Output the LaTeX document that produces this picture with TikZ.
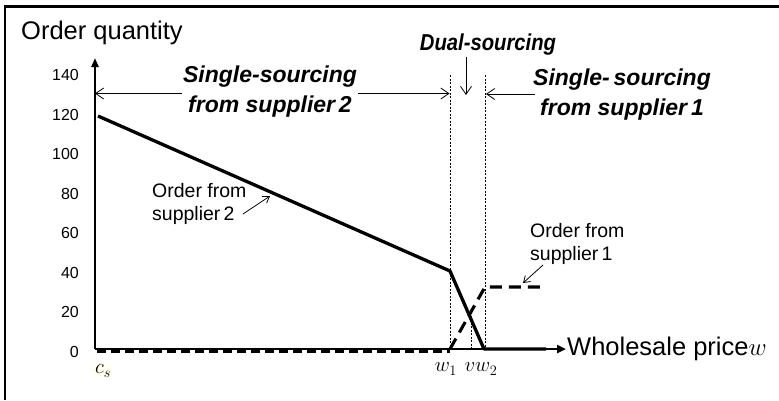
\documentclass[tikz,border=0pt]{standalone}
\usepackage{fontspec}
\setmainfont{Liberation Sans}
\usetikzlibrary{arrows.meta}
\begin{document}
\begin{tikzpicture}[x=1pt,y=-1pt,
  ticklab/.style={anchor=east,inner sep=0pt,font=\fontsize{16}{19}\selectfont},
  bigtxt/.style={inner sep=0pt,font=\fontsize{25.5}{30}\selectfont},
  regionlab/.style={inner sep=1pt,align=center,font=\fontsize{23}{30}\selectfont\bfseries\itshape},
  ordlab/.style={anchor=west,inner sep=0pt,align=left,font=\fontsize{19.5}{22.5}\selectfont},
  mathlab/.style={inner sep=1pt,font=\fontsize{21}{24}\selectfont},
  openarrow/.style={line width=0.8pt,-{Straight Barb[length=8pt,width=11pt]}},
  smallarrow/.style={line width=0.8pt,-{Straight Barb[length=6pt,width=8pt]}},
  guide/.style={line width=0.6pt,dash pattern=on 2pt off 1.5pt},
  curve/.style={line width=3.3pt,line join=round}
]
\useasboundingbox (0,0) rectangle (779,400);
% frame
\coordinate (fbl) at (5,400);
\coordinate (ftl) at (5,6.5);
\coordinate (ftr) at (779,6.5);
\draw[line width=2.6pt] (fbl) -- (ftl) -- (ftr);

% axes
\coordinate (O) at (95,349);
\coordinate (ytop) at (95,58);
\coordinate (xend) at (566,349);
\draw[line width=2.3pt,-{Triangle[length=9pt,width=7pt]}] (O) -- (ytop);
\draw[line width=2.8pt,-{Triangle[length=9pt,width=8pt]}] (O) -- (xend);
\node[bigtxt,anchor=west] (xlab) at (567,349) {Wholesale price$w$};
\node[bigtxt,anchor=west] (ylab) at (21,33) {Order quantity};

% ticks
\node[ticklab] (t140) at (79,75) {140};
\node[ticklab] (t120) at (79,114.5) {120};
\node[ticklab] (t100) at (79,154) {100};
\node[ticklab] (t80) at (79,193.5) {80};
\node[ticklab] (t60) at (79,233) {60};
\node[ticklab] (t40) at (79,272.5) {40};
\node[ticklab] (t20) at (79,312) {20};
\node[ticklab] (t0) at (79,351.5) {0};

% guide lines
\coordinate (g1t) at (450,75);
\coordinate (g1b) at (450,349);
\coordinate (g2t) at (485,75);
\coordinate (g2b) at (485,349);
\coordinate (g3t) at (471,312);
\coordinate (g3b) at (471,349);
\draw[guide] (g1t) -- (g1b);
\draw[guide] (g2t) -- (g2b);
\draw[guide] (g3t) -- (g3b);

% supplier 1 order (dashed)
\coordinate (s1a) at (97,351.5);
\coordinate (s1b) at (450,351.5);
\coordinate (s1c) at (450,349);
\coordinate (s1d) at (485,287);
\coordinate (s1e) at (546,287);
\draw[line width=2.8pt,dash pattern=on 9pt off 5pt] (s1a) -- (s1b);
\draw[line width=3.1pt,dash pattern=on 12pt off 7pt] (s1c) -- (s1d) -- (s1e);

% supplier 2 order (solid)
\coordinate (s2a) at (98,116);
\coordinate (s2b) at (450,271);
\coordinate (s2c) at (484,349);
\coordinate (s2d) at (546,349);
\draw[curve] (s2a) -- (s2b) -- (s2c) -- (s2d);

% region arrows
\coordinate (a2l) at (95,93.5);
\coordinate (a2r) at (449.5,93.5);
\draw[line width=0.8pt,{Straight Barb[length=8pt,width=11pt]}-{Straight Barb[length=8pt,width=11pt]}] (a2l) -- (a2r);
\node[regionlab,fill=white] (r2) at (270,92) {Single-sourcing\\from supplier\,2};

\node[regionlab] (r1) at (622,95) {Single-\,sourcing\\from supplier\,1};
\coordinate (a1s) at (535,94);
\coordinate (a1e) at (486,94);
\draw[openarrow] (a1s) -- (a1e);

\node[inner sep=0pt] (rd) at (488,45) {\fontsize{23}{30}\selectfont\bfseries\itshape\scalebox{0.88}[1]{Dual-sourcing}};
\coordinate (dtop) at (466,57);
\coordinate (dbot) at (466,95);
\draw[openarrow] (dtop) -- (dbot);

% order labels
\node[ordlab] (o2) at (152,204) {Order from\\supplier\,2};
\coordinate (o2s) at (243,214);
\coordinate (o2e) at (270,196);
\draw[smallarrow] (o2s) -- (o2e);

\node[ordlab] (o1) at (530,244) {Order from\\supplier\,1};
\coordinate (o1s) at (543,265);
\coordinate (o1e) at (523,283);
\draw[smallarrow] (o1s) -- (o1e);

% axis value labels
\node[mathlab,fill=yellow!6] (cs) at (103,371) {$c_s$};
\node[mathlab] (w1) at (446,369) {$w_1$};
\node[mathlab] (vw2) at (481,369) {$v w_2$};
\end{tikzpicture}
\end{document}
